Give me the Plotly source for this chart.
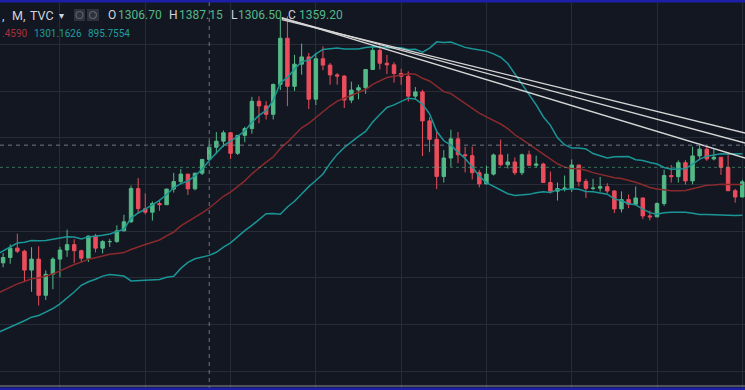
import plotly.graph_objects as go
import pandas as pd

# ---- data (TVC gold, monthly) ----
# closes before the visible window (Sep 2006 .. Mar 2008), only used for the 20-period Bollinger warm-up
warmup_closes = [599, 604, 646, 632,
                 650, 665, 662, 677, 657, 650, 666, 673, 743, 789, 783, 834,
                 923, 972, 916]

# visible candles: Apr 2008 .. Jan 2017
months = ([f"2008-{m:02d}" for m in range(4, 13)] +
          [f"{y}-{m:02d}" for y in range(2009, 2017) for m in range(1, 13)] + ["2017-01"])

opens = [916, 864, 887, 927, 914, 833, 880, 725, 815,
         880, 919, 942, 916, 884, 979, 927, 955, 955, 1001, 1040, 1182,
         1096, 1081, 1118, 1113, 1180, 1212, 1244, 1181, 1248, 1307, 1359, 1385,
         1421, 1333, 1410, 1439, 1556, 1536, 1500, 1628, 1826, 1620, 1715, 1746,
         1565, 1738, 1711, 1669, 1664, 1561, 1604, 1614, 1692, 1774, 1719, 1712,
         1675, 1663, 1578, 1596, 1472, 1393, 1234, 1313, 1395, 1327, 1323, 1250,
         1202, 1244, 1326, 1284, 1296, 1250, 1327, 1282, 1287, 1208, 1171, 1182,
         1184, 1283, 1213, 1183, 1184, 1190, 1172, 1095, 1135, 1115, 1142, 1065,
         1061, 1118, 1238, 1233, 1293, 1215, 1322, 1351, 1309, 1316, 1273, 1173,
         1146]
highs = [934, 906, 943, 989, 920, 931, 935, 832, 888,
         933, 1006, 965, 920, 980, 988, 961, 966, 1025, 1070, 1195, 1227,
         1162, 1127, 1135, 1181, 1249, 1265, 1245, 1250, 1308, 1387, 1424, 1431,
         1424, 1411, 1447, 1575, 1577, 1556, 1632, 1911, 1920, 1755, 1803, 1763,
         1763, 1791, 1720, 1677, 1668, 1640, 1627, 1693, 1790, 1796, 1754, 1723,
         1695, 1684, 1617, 1605, 1488, 1424, 1347, 1434, 1424, 1361, 1362, 1262,
         1280, 1332, 1392, 1331, 1315, 1332, 1345, 1323, 1293, 1255, 1208, 1238,
         1307, 1283, 1224, 1224, 1232, 1205, 1175, 1170, 1157, 1191, 1142, 1088,
         1123, 1263, 1283, 1303, 1304, 1362, 1375, 1367, 1352, 1317, 1338, 1181,
         1220]
lows = [860, 845, 860, 906, 786, 740, 681, 705, 751,
        802, 890, 864, 866, 868, 909, 904, 932, 950, 1000, 1035, 1076,
        1072, 1045, 1087, 1112, 1165, 1199, 1155, 1175, 1240, 1306, 1330, 1360,
        1309, 1326, 1381, 1417, 1462, 1478, 1478, 1604, 1535, 1600, 1670, 1523,
        1540, 1689, 1627, 1627, 1527, 1548, 1564, 1588, 1690, 1692, 1673, 1636,
        1626, 1555, 1562, 1321, 1338, 1180, 1208, 1275, 1291, 1251, 1221, 1187,
        1202, 1238, 1278, 1268, 1240, 1240, 1282, 1272, 1206, 1161, 1131, 1170,
        1167, 1191, 1142, 1175, 1169, 1162, 1077, 1080, 1098, 1110, 1052, 1046,
        1060, 1108, 1208, 1208, 1199, 1200, 1310, 1301, 1303, 1241, 1171, 1122,
        1146]
closes = [864, 887, 927, 914, 833, 880, 725, 815, 880,
          919, 942, 916, 884, 979, 927, 955, 955, 1001, 1040, 1182, 1096,
          1081, 1118, 1113, 1180, 1212, 1244, 1181, 1248, 1307, 1359, 1385, 1421,
          1333, 1410, 1439, 1556, 1536, 1500, 1628, 1826, 1620, 1715, 1746, 1565,
          1738, 1711, 1669, 1664, 1561, 1604, 1614, 1692, 1774, 1719, 1712, 1675,
          1663, 1578, 1596, 1472, 1393, 1234, 1313, 1395, 1327, 1323, 1250, 1202,
          1244, 1326, 1284, 1296, 1250, 1327, 1282, 1287, 1208, 1171, 1182, 1184,
          1283, 1213, 1183, 1184, 1190, 1172, 1095, 1135, 1115, 1142, 1065, 1061,
          1118, 1238, 1233, 1293, 1215, 1322, 1351, 1309, 1316, 1273, 1173, 1146,
          1211]

# Bollinger settings (length, stdev multiplier) as implied by the legend values
bb_length = 20
bb_mult = 1.5

# drawn trend lines (start points, end points at right edge): bar index (0 = Jan 2009), price
trend_start_x = [31.2, 31.2, 31.2]
trend_start_prices = [1906, 1912, 1914]
trend_end_x = 96.4
trend_end_prices = [1420, 1377, 1313]

crosshair_bar = 21          # Oct 2010
crosshair_price = 1368
last_price = 1273

# ---- derived ----
first_bar = -9              # Apr 2008 relative to Jan 2009
xs = [first_bar + i for i in range(len(months))]
all_close = pd.Series(warmup_closes + closes)
basis_all = all_close.rolling(bb_length).mean()
std_all = all_close.rolling(bb_length).std(ddof=0)
n0 = len(warmup_closes)
basis = basis_all.iloc[n0:].tolist()
upper = (basis_all + bb_mult * std_all).iloc[n0:].tolist()
lower = (basis_all - bb_mult * std_all).iloc[n0:].tolist()

UP, DN = "#53b987", "#eb4d5c"
BG = "#131722"
GRID = "#282c37"

fig = go.Figure()
fig.add_trace(go.Scatter(x=xs, y=upper, mode="lines", line=dict(color="#1a9696", width=1.5), hoverinfo="skip"))
fig.add_trace(go.Scatter(x=xs, y=lower, mode="lines", line=dict(color="#1a9696", width=1.5), hoverinfo="skip"))
fig.add_trace(go.Scatter(x=xs, y=basis, mode="lines", line=dict(color="#8a2a2c", width=1.5), hoverinfo="skip"))
fig.add_trace(go.Candlestick(
    x=xs, open=opens, high=highs, low=lows, close=closes,
    increasing=dict(line=dict(color=UP, width=1), fillcolor=UP),
    decreasing=dict(line=dict(color=DN, width=1), fillcolor=DN),
    whiskerwidth=0,
))
for x0, p0, p1 in zip(trend_start_x, trend_start_prices, trend_end_prices):
    fig.add_trace(go.Scatter(x=[x0, trend_end_x], y=[p0, p1], mode="lines",
                             line=dict(color="#d6d6d6", width=1.3), hoverinfo="skip"))

shapes = [
    dict(type="line", xref="x", yref="paper", x0=crosshair_bar, x1=crosshair_bar, y0=0, y1=1,
         line=dict(color="#6f7886", width=1, dash="4px,4px")),
    dict(type="line", xref="paper", yref="y", x0=0, x1=1, y0=crosshair_price, y1=crosshair_price,
         line=dict(color="#6f7886", width=1, dash="4px,4px")),
    dict(type="line", xref="paper", yref="y", x0=0, x1=1, y0=last_price, y1=last_price,
         line=dict(color="rgba(83,185,135,0.55)", width=1, dash="dot")),
    # frame artefacts
    dict(type="rect", xref="paper", yref="paper", x0=0, x1=1, y0=1 - 2.5 / 390, y1=1,
         line=dict(width=0), fillcolor="#1e1fa8"),
    dict(type="line", xref="paper", yref="paper", x0=0, x1=1, y0=4 / 390, y1=4 / 390,
         line=dict(color="#8c8f98", width=1)),
    dict(type="rect", xref="paper", yref="paper", x0=0, x1=1, y0=0, y1=2.5 / 390,
         line=dict(width=0), fillcolor="#1e1fa8"),
]
# icon boxes in the legend
for (a, b) in [(74, 85), (87, 99)]:
    shapes.append(dict(type="rect", xref="paper", yref="paper", x0=a / 745, x1=b / 745,
                       y0=1 - 21 / 390, y1=1 - 9 / 390, line=dict(width=0), fillcolor="#2e323d"))
    cx = (a + b) / 2
    shapes.append(dict(type="circle", xref="paper", yref="paper", x0=(cx - 3.5) / 745, x1=(cx + 3.5) / 745,
                       y0=1 - 18.5 / 390, y1=1 - 11.5 / 390, line=dict(color="#5d606b", width=1.2)))

LBL, VAL = "#d1d4dc", "#53b987"
texts = [
    (0, 15.5, ",", LBL, 12.5),
    (10, 15.5, "M,", LBL, 12.5),
    (28, 15.5, "TVC", LBL, 12.5),
    (57, 15.5, "▾", LBL, 10),
    (106, 15.5, "O", LBL, 12), (116, 15.5, "1306.70", VAL, 12),
    (167, 15.5, "H", LBL, 12), (177, 15.5, "1387.15", VAL, 12),
    (229, 15.5, "L", LBL, 12), (236, 15.5, "1306.50", VAL, 12),
    (286, 15.5, "C", LBL, 12), (297, 15.5, "1359.20", VAL, 12),
    (0, 33.5, ".4590", "#a8323a", 10),
    (32, 33.5, "1301.1626", "#1f9e9e", 10),
    (86, 33.5, "895.7554", "#1f9e9e", 10),
]
annotations = [dict(xref="paper", yref="paper", x=x / 745, y=1 - y / 390, text=t, showarrow=False,
                    xanchor="left", yanchor="middle", font=dict(family="Roboto", size=s, color=c))
               for x, y, t, c, s in texts]

fig.update_layout(
    width=745, height=390, margin=dict(l=0, r=0, t=0, b=0),
    paper_bgcolor=BG, plot_bgcolor=BG, showlegend=False,
    shapes=shapes, annotations=annotations,
    xaxis=dict(range=[-8.44, 96.38], tick0=0, dtick=12, showgrid=True, gridcolor=GRID, gridwidth=1,
               showticklabels=False, zeroline=False, rangeslider=dict(visible=False), showline=False),
    yaxis=dict(range=[319.5, 1989.7], tick0=0, dtick=200, showgrid=True, gridcolor=GRID, gridwidth=1,
               showticklabels=False, zeroline=False, showline=False),
)
fig.write_html("out.html", config={"displayModeBar": False},
               post_script="document.body.style.margin='0px';document.body.style.background='#131722';")
